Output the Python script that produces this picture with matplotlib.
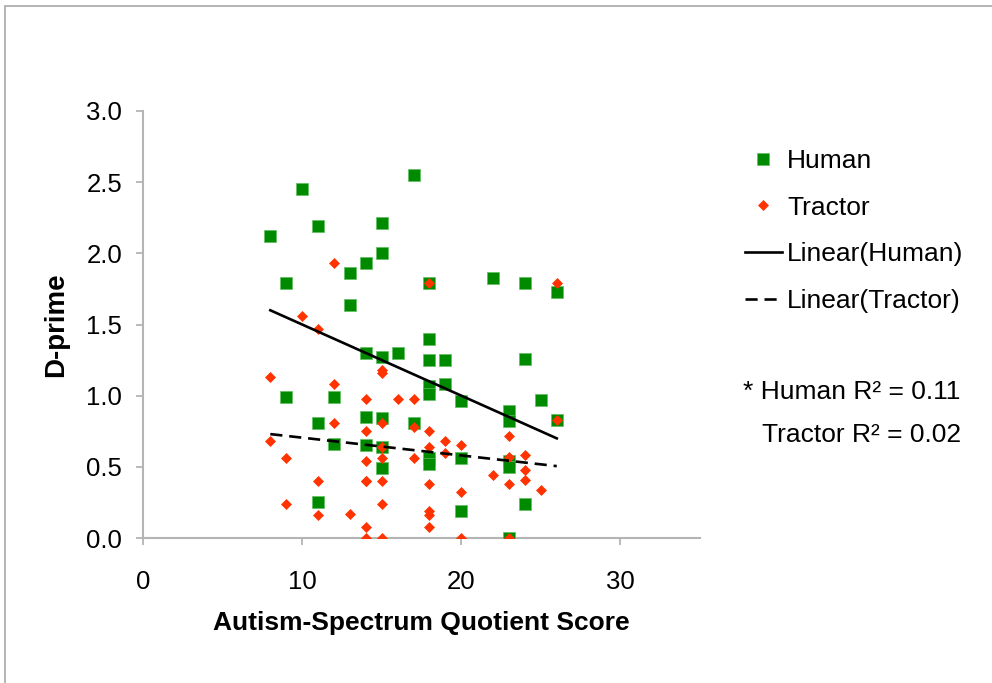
import numpy as np
import matplotlib
matplotlib.use("Agg")
import matplotlib.pyplot as plt
from matplotlib.patches import Rectangle

plt.rcParams['font.family'] = ['Liberation Sans', 'DejaVu Sans']

# AQ score and d-prime for the human-face condition
human_aq = [8, 9, 9, 10, 11, 11, 11, 12, 12, 13, 13,
            14, 14, 14, 14,
            15, 15, 15, 15, 15, 15,
            16, 17, 17,
            18, 18, 18, 18, 18, 18, 18,
            19, 19, 20, 20, 20, 22,
            23, 23, 23, 23, 23,
            24, 24, 24, 25, 26, 26]
human_dp = [2.12, 1.79, 0.99, 2.45, 2.19, 0.81, 0.25, 0.99, 0.66, 1.86, 1.64,
            1.93, 1.30, 0.85, 0.65,
            2.21, 2.00, 1.27, 0.84, 0.64, 0.49,
            1.30, 2.55, 0.81,
            1.79, 1.40, 1.25, 1.07, 1.01, 0.56, 0.52,
            1.25, 1.08, 0.96, 0.56, 0.19, 1.83,
            0.89, 0.82, 0.54, 0.50, 0.00,
            1.79, 1.26, 0.24, 0.97, 1.73, 0.83]

# AQ score and d-prime for the tractor condition
tractor_aq = [8, 8, 9, 9, 10, 11, 11, 11, 12, 12, 12, 13,
              14, 14, 14, 14, 14, 14, 14,
              15, 15, 15, 15, 15, 15, 15, 15, 15,
              16, 17, 17, 17,
              18, 18, 18, 18, 18, 18, 18,
              19, 19, 20, 20, 20, 22,
              23, 23, 23, 23,
              24, 24, 24, 25, 26, 26]
tractor_dp = [1.13, 0.68, 0.56, 0.24, 1.56, 1.47, 0.40, 0.16, 1.93, 1.08, 0.81, 0.17,
              0.98, 0.75, 0.54, 0.40, 0.40, 0.08, 0.00,
              1.18, 1.16, 0.81, 0.64, 0.56, 0.40, 0.24, 0.00, 0.64,
              0.98, 0.98, 0.78, 0.56,
              1.79, 0.75, 0.64, 0.38, 0.19, 0.16, 0.08,
              0.68, 0.60, 0.65, 0.32, 0.00, 0.44,
              0.72, 0.57, 0.38, 0.00,
              0.58, 0.48, 0.41, 0.34, 1.79, 0.83]

# linear trend coefficients (slope, intercept)
human_fit = (-0.050, 2.00)
tractor_fit = (-0.0125, 0.83)

x_ticks = [0, 10, 20, 30]
y_ticks = [0.0, 0.5, 1.0, 1.5, 2.0, 2.5, 3.0]
r2_lines = ["* Human R\u00b2 = 0.11", "Tractor R\u00b2 = 0.02"]

GREEN = '#008a00'
RED = '#ff3300'
AXIS_GRAY = '#b4b4b4'
FS = 19
TICK_FS = 18.5

fig = plt.figure(figsize=(9.92, 6.83), dpi=100)
W, H = 992, 683
ax = fig.add_axes([143 / W, 1 - 538 / H, (700 - 143) / W, (538 - 111) / H])

ax.plot(human_aq, human_dp, linestyle='none', marker='s', markersize=8,
        color=GREEN, markeredgecolor='#5fbf5f', markeredgewidth=0.5,
        label='Human', zorder=3)
ax.plot(tractor_aq, tractor_dp, linestyle='none', marker='D', markersize=5.6,
        color=RED, markeredgecolor=RED, markeredgewidth=0.5,
        label='Tractor', zorder=4)


def trend(xs, coef):
    xx = np.array([min(xs), max(xs)], float)
    return xx, coef[0] * xx + coef[1]


hx, hy = trend(human_aq, human_fit)
tx, ty = trend(tractor_aq, tractor_fit)
ax.plot(hx, hy, color='black', lw=1.9, label='Linear(Human)', zorder=5)
ax.plot(tx, ty, color='black', lw=1.9, dashes=(4.6, 2.6),
        label='Linear(Tractor)', zorder=5)

ax.set_xlim(0, 35)
ax.set_ylim(0, 3.0)
ax.set_xticks(x_ticks)
ax.set_yticks(y_ticks)
ax.set_yticklabels([f"{v:.1f}" for v in y_ticks])
for s in ['top', 'right']:
    ax.spines[s].set_visible(False)
for s in ['left', 'bottom']:
    ax.spines[s].set_color(AXIS_GRAY)
    ax.spines[s].set_linewidth(1.5)
ax.tick_params(axis='both', direction='out', length=5, width=1.3,
               color=AXIS_GRAY, labelsize=TICK_FS, labelcolor='black')
ax.tick_params(axis='y', pad=10)
ax.tick_params(axis='x', pad=18)

ax.set_xlabel('Autism-Spectrum Quotient Score', fontsize=FS, fontweight='bold',
              labelpad=12)
ax.set_ylabel('D-prime', fontsize=20, fontweight='bold', labelpad=12)

leg = ax.legend(loc='upper left', bbox_to_anchor=(745 / W, 1 - 149 / H),
                bbox_transform=fig.transFigure, frameon=False, fontsize=FS,
                handlelength=1.4, handletextpad=0.2, labelspacing=0.86,
                borderaxespad=0, borderpad=0)

fig.text(743 / W, 1 - 392 / H, r2_lines[0], fontsize=FS, va='center', ha='left')
fig.text(762 / W, 1 - 435 / H, r2_lines[1], fontsize=FS, va='center', ha='left')

# outer frame (left and top edges visible)
fig.patches.append(Rectangle((4.5 / W, -0.2), 1.5, 1.2 - 5.5 / H,
                             transform=fig.transFigure, fill=False,
                             edgecolor='#a8a8a8', lw=1.2))

fig.savefig('out.png', dpi=100)
